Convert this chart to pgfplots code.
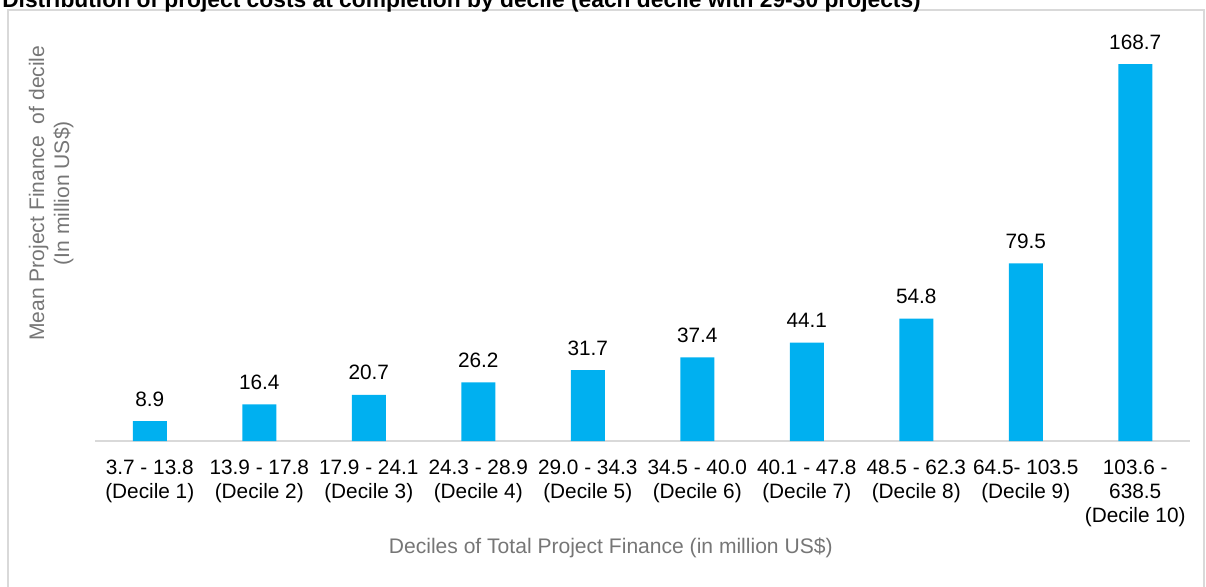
\documentclass[border=0pt]{standalone}
\usepackage{pgfplots}
\pgfplotsset{compat=1.18}
\usepackage{fontspec}
\setmainfont{Liberation Sans}
\definecolor{barblue}{HTML}{00B0F0}
\definecolor{gridgray}{HTML}{D9D9D9}
\definecolor{labgray}{HTML}{767676}

\begin{document}
\begin{tikzpicture}
% picture area 1206 x 586 px, 1px = 0.75pt, origin at top left
\begin{scope}[x=0.75pt,y=-0.75pt]
\useasboundingbox (0,0) rectangle (1206,586);
\draw[gridgray, line width=1pt] (8,590) -- (8,10) -- (1204,10) -- (1204,590);
\node[anchor=base west, inner sep=0pt, font=\fontsize{17.1}{20}\selectfont\bfseries] at (2,7)
  {Distribution of project costs at completion by decile (each decile with 29-30 projects)};
\end{scope}

\begin{axis}[
    at={(71.25pt,-330.75pt)}, anchor=south west,
    scale only axis,
    width=821.25pt, height=308.25pt,
    ybar, bar width=25.5pt,
    xmin=-0.5, xmax=9.5,
    ymin=0, ymax=184,
    axis x line=bottom, axis y line*=left,
    x axis line style={gridgray, line width=1pt, -},
    y axis line style={draw=none},
    ytick=\empty,
    major tick length=0pt,
    xtick=data,
    xticklabels={
      {3.7 - 13.8\\(Decile 1)},
      {13.9 - 17.8\\(Decile 2)},
      {17.9 - 24.1\\(Decile 3)},
      {24.3 - 28.9\\(Decile 4)},
      {29.0 - 34.3\\(Decile 5)},
      {34.5 - 40.0\\(Decile 6)},
      {40.1 - 47.8\\(Decile 7)},
      {48.5 - 62.3\\(Decile 8)},
      {64.5- 103.5\\(Decile 9)},
      {103.6 -\\638.5\\(Decile 10)}},
    xticklabel style={align=center, font=\fontsize{15.6}{18}\selectfont, yshift=-11pt},
    xlabel={Deciles of Total Project Finance (in million US\$)},
    xlabel style={at={(axis description cs:0.471,-0.26)}, anchor=center,
      font=\fontsize{15.8}{18}\selectfont, text=labgray},
    ylabel={Mean Project Finance\ \ of decile\\(In million US\$)},
    ylabel style={at={(axis description cs:-0.04,0.603)}, anchor=center, align=center,
      font=\fontsize{15.8}{18.75}\selectfont, text=labgray},
    nodes near coords,
    point meta=explicit symbolic,
    nodes near coords style={font=\fontsize{15.6}{18}\selectfont, text=black, yshift=7.5pt},
]
\addplot[fill=barblue, draw=none] coordinates {
  (0,8.9)[8.9] (1,16.4)[16.4] (2,20.7)[20.7] (3,26.2)[26.2] (4,31.7)[31.7]
  (5,37.4)[37.4] (6,44.1)[44.1] (7,54.8)[54.8] (8,79.5)[79.5] (9,168.7)[168.7]};
\end{axis}
\end{tikzpicture}
\end{document}
